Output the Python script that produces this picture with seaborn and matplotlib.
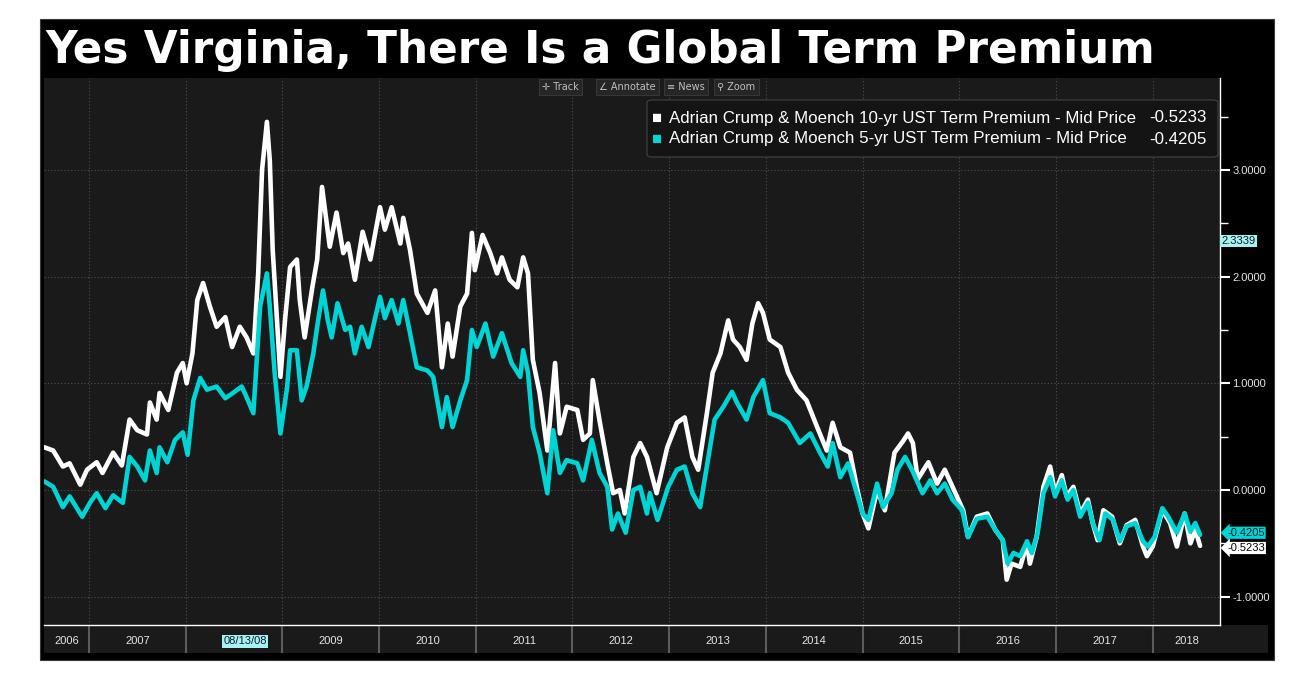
import numpy as np
import pandas as pd
import seaborn as sns
import matplotlib.pyplot as plt
import matplotlib.transforms as mtransforms
from matplotlib.patches import Rectangle, FancyBboxPatch

# %% data (dates as decimal years, term premium in %)
dates_10y = [2006.54, 2006.63, 2006.73, 2006.80, 2006.91, 2006.98, 2007.08, 2007.14, 2007.25, 2007.34,
             2007.42, 2007.50, 2007.60, 2007.63, 2007.70, 2007.73, 2007.82, 2007.91, 2007.97, 2008.01,
             2008.07, 2008.12, 2008.18, 2008.25, 2008.32, 2008.41, 2008.48, 2008.56, 2008.63, 2008.70,
             2008.75, 2008.79, 2008.84, 2008.87, 2008.90, 2008.98, 2009.03, 2009.08, 2009.15, 2009.18,
             2009.23, 2009.31, 2009.36, 2009.41, 2009.49, 2009.56, 2009.63, 2009.68, 2009.75, 2009.83,
             2009.91, 2010.01, 2010.06, 2010.13, 2010.22, 2010.25, 2010.32, 2010.39, 2010.50, 2010.58,
             2010.65, 2010.71, 2010.76, 2010.84, 2010.91, 2010.96, 2010.99, 2011.07, 2011.15, 2011.22,
             2011.27, 2011.35, 2011.43, 2011.49, 2011.54, 2011.59, 2011.66, 2011.74, 2011.82, 2011.87,
             2011.94, 2012.05, 2012.11, 2012.18, 2012.21, 2012.28, 2012.36, 2012.42, 2012.49, 2012.54,
             2012.63, 2012.70, 2012.77, 2012.87, 2012.98, 2013.08, 2013.16, 2013.24, 2013.30, 2013.39,
             2013.45, 2013.53, 2013.61, 2013.66, 2013.73, 2013.80, 2013.86, 2013.92, 2013.97, 2014.04,
             2014.15, 2014.23, 2014.32, 2014.42, 2014.53, 2014.63, 2014.69, 2014.77, 2014.87, 2014.94,
             2015.00, 2015.06, 2015.15, 2015.23, 2015.33, 2015.42, 2015.47, 2015.52, 2015.57, 2015.68,
             2015.77, 2015.85, 2015.93, 2016.04, 2016.09, 2016.18, 2016.29, 2016.37, 2016.45, 2016.49,
             2016.54, 2016.63, 2016.70, 2016.73, 2016.80, 2016.87, 2016.94, 2016.99, 2017.06, 2017.11,
             2017.18, 2017.25, 2017.33, 2017.38, 2017.43, 2017.49, 2017.58, 2017.66, 2017.73, 2017.82,
             2017.90, 2017.94, 2018.00, 2018.10, 2018.18, 2018.25, 2018.33, 2018.39, 2018.44, 2018.49]
tp_10y = [0.40, 0.37, 0.22, 0.25, 0.05, 0.19, 0.26, 0.16, 0.35, 0.23,
          0.66, 0.56, 0.52, 0.82, 0.66, 0.91, 0.75, 1.10, 1.19, 1.00,
          1.28, 1.78, 1.94, 1.72, 1.53, 1.62, 1.34, 1.53, 1.43, 1.28,
          2.03, 3.00, 3.45, 3.09, 2.25, 1.06, 1.62, 2.09, 2.16, 1.78,
          1.43, 1.90, 2.16, 2.84, 2.28, 2.60, 2.22, 2.31, 1.97, 2.42,
          2.16, 2.65, 2.44, 2.65, 2.31, 2.55, 2.25, 1.84, 1.66, 1.87,
          1.15, 1.56, 1.25, 1.72, 1.84, 2.41, 2.06, 2.39, 2.22, 2.03,
          2.18, 1.97, 1.90, 2.18, 2.03, 1.22, 0.91, 0.37, 1.19, 0.53,
          0.78, 0.75, 0.47, 0.53, 1.03, 0.65, 0.25, -0.03, 0.00, -0.22,
          0.31, 0.44, 0.31, -0.03, 0.40, 0.63, 0.68, 0.31, 0.19, 0.72,
          1.10, 1.28, 1.59, 1.41, 1.34, 1.22, 1.56, 1.75, 1.66, 1.41,
          1.34, 1.10, 0.94, 0.84, 0.59, 0.37, 0.63, 0.40, 0.35, 0.03,
          -0.22, -0.36, 0.00, -0.19, 0.35, 0.46, 0.53, 0.44, 0.10, 0.26,
          0.06, 0.19, 0.03, -0.19, -0.44, -0.25, -0.22, -0.37, -0.47, -0.84,
          -0.69, -0.72, -0.50, -0.69, -0.44, 0.03, 0.22, -0.03, 0.14, -0.06,
          0.03, -0.22, -0.09, -0.31, -0.47, -0.19, -0.25, -0.50, -0.33, -0.28,
          -0.53, -0.62, -0.53, -0.19, -0.31, -0.53, -0.22, -0.50, -0.37, -0.5233]

dates_5y = [2006.54, 2006.63, 2006.73, 2006.80, 2006.93, 2007.01, 2007.08, 2007.17, 2007.25, 2007.35,
            2007.42, 2007.50, 2007.58, 2007.63, 2007.70, 2007.73, 2007.81, 2007.89, 2007.97, 2008.02,
            2008.08, 2008.15, 2008.22, 2008.32, 2008.41, 2008.49, 2008.58, 2008.63, 2008.70, 2008.77,
            2008.84, 2008.87, 2008.92, 2008.98, 2009.05, 2009.08, 2009.15, 2009.20, 2009.25, 2009.32,
            2009.37, 2009.42, 2009.47, 2009.51, 2009.57, 2009.65, 2009.70, 2009.75, 2009.82, 2009.89,
            2010.01, 2010.06, 2010.13, 2010.20, 2010.25, 2010.32, 2010.39, 2010.50, 2010.56, 2010.65,
            2010.70, 2010.76, 2010.84, 2010.91, 2010.96, 2011.01, 2011.10, 2011.18, 2011.27, 2011.37,
            2011.46, 2011.49, 2011.54, 2011.59, 2011.66, 2011.74, 2011.80, 2011.87, 2011.94, 2012.05,
            2012.11, 2012.20, 2012.28, 2012.36, 2012.41, 2012.47, 2012.55, 2012.63, 2012.70, 2012.77,
            2012.80, 2012.88, 2012.99, 2013.08, 2013.16, 2013.24, 2013.32, 2013.39, 2013.47, 2013.56,
            2013.65, 2013.70, 2013.80, 2013.87, 2013.97, 2014.04, 2014.15, 2014.23, 2014.35, 2014.46,
            2014.56, 2014.64, 2014.69, 2014.77, 2014.85, 2014.94, 2015.00, 2015.06, 2015.15, 2015.21,
            2015.30, 2015.36, 2015.44, 2015.51, 2015.56, 2015.62, 2015.70, 2015.77, 2015.85, 2015.93,
            2016.03, 2016.09, 2016.18, 2016.29, 2016.37, 2016.45, 2016.50, 2016.56, 2016.63, 2016.70,
            2016.75, 2016.81, 2016.87, 2016.94, 2016.99, 2017.06, 2017.12, 2017.18, 2017.25, 2017.33,
            2017.38, 2017.45, 2017.51, 2017.59, 2017.66, 2017.73, 2017.82, 2017.90, 2017.95, 2018.02,
            2018.10, 2018.16, 2018.25, 2018.33, 2018.39, 2018.44, 2018.49]
tp_5y = [0.08, 0.03, -0.16, -0.06, -0.25, -0.12, -0.03, -0.17, -0.05, -0.12,
         0.31, 0.22, 0.09, 0.37, 0.16, 0.40, 0.26, 0.47, 0.54, 0.33,
         0.84, 1.05, 0.94, 0.97, 0.86, 0.91, 0.97, 0.87, 0.72, 1.72,
         2.03, 1.72, 1.10, 0.53, 0.97, 1.31, 1.31, 0.84, 0.97, 1.28,
         1.59, 1.87, 1.59, 1.43, 1.75, 1.50, 1.53, 1.28, 1.53, 1.34,
         1.81, 1.61, 1.78, 1.56, 1.78, 1.47, 1.15, 1.12, 1.06, 0.59,
         0.87, 0.59, 0.84, 1.03, 1.50, 1.34, 1.56, 1.25, 1.47, 1.19,
         1.06, 1.31, 1.10, 0.59, 0.35, -0.03, 0.56, 0.16, 0.28, 0.25,
         0.09, 0.47, 0.16, 0.03, -0.37, -0.22, -0.40, 0.00, 0.03, -0.22,
         -0.03, -0.28, 0.03, 0.19, 0.22, -0.03, -0.16, 0.22, 0.66, 0.78,
         0.92, 0.82, 0.66, 0.87, 1.03, 0.72, 0.68, 0.63, 0.44, 0.53,
         0.35, 0.22, 0.44, 0.12, 0.25, -0.03, -0.22, -0.28, 0.06, -0.16,
         -0.03, 0.19, 0.31, 0.19, 0.09, -0.03, 0.09, -0.03, 0.06, -0.09,
         -0.19, -0.44, -0.27, -0.25, -0.37, -0.47, -0.69, -0.59, -0.62, -0.48,
         -0.59, -0.40, -0.03, 0.12, -0.06, 0.09, -0.09, 0.00, -0.25, -0.12,
         -0.31, -0.47, -0.22, -0.28, -0.48, -0.34, -0.31, -0.48, -0.53, -0.44,
         -0.17, -0.25, -0.40, -0.22, -0.39, -0.31, -0.4205]

name_10y = "Adrian Crump & Moench 10-yr UST Term Premium - Mid Price"
name_5y = "Adrian Crump & Moench 5-yr UST Term Premium - Mid Price"
last_10y = -0.5233
last_5y = -0.4205
cursor_value = 2.3339
cursor_date = 2008.615
cursor_label = "08/13/08"
years = list(range(2006, 2019))
y_ticks = [-1.0, 0.0, 1.0, 2.0, 3.0]
title = "Yes Virginia, There Is a Global Term Premium"
toolbar = ["\u271b Track", "\u2220 Annotate", "\u2261 News", "\u26b2 Zoom"]

# %% style
W, H = 1303, 684
BG = "#1a1a1a"
TEAL = "#00d4d4"
CURSOR = "#a8f2f2"

sns.set_style("dark")
plt.rcParams["font.family"] = ["Liberation Sans", "DejaVu Sans"]


def box(x0, y0, x1, y1):
    # pixel box (top-left origin) -> figure fraction rect
    return [x0 / W, 1 - y1 / H, (x1 - x0) / W, (y1 - y0) / H]


fig = plt.figure(figsize=(W / 100, H / 100), dpi=100, facecolor="white")
fig.patches.append(Rectangle((40 / W, 1 - 660 / H), 1234 / W, 641 / H,
                             transform=fig.transFigure, facecolor="black",
                             edgecolor="#3a3a3a", lw=0.8, zorder=-5))

# %% main panel
ax = fig.add_axes(box(44, 78, 1220, 625), zorder=2)
ax.set_facecolor(BG)

df10 = pd.DataFrame({"date": dates_10y, "tp": tp_10y})
df5 = pd.DataFrame({"date": dates_5y, "tp": tp_5y})
sns.lineplot(data=df10, x="date", y="tp", ax=ax, color="white", linewidth=3.3,
             estimator=None, sort=False)
sns.lineplot(data=df5, x="date", y="tp", ax=ax, color=TEAL, linewidth=3.3,
             estimator=None, sort=False)

x_lo, x_hi = 2006.535, 2018.696
ax.set_xlim(x_lo, x_hi)
ax.set_ylim(-1.265, 3.861)
ax.set_xlabel("")
ax.set_ylabel("")

ax.set_xticks(years[1:])
ax.set_xticks([y + q for y in years for q in (0.25, 0.5, 0.75) if x_lo < y + q < x_hi], minor=True)
ax.tick_params(axis="x", which="major", length=0, labelbottom=False)
ax.tick_params(axis="x", which="minor", length=3, width=1, color="white", direction="out")

ax.yaxis.tick_right()
ax.set_yticks(y_ticks)
ax.set_yticklabels([f"{v:.4f}" for v in y_ticks])
ax.set_yticks([v + 0.5 for v in y_ticks], minor=True)
ax.tick_params(axis="y", which="major", length=7, width=1.5, color="white",
               labelcolor="#e6e6e6", labelsize=8, pad=2)
ax.tick_params(axis="y", which="minor", length=6, width=1, color="white")

ax.grid(True, which="major", color="#505050", linestyle=(0, (1, 2)), linewidth=0.8)
for side in ("top", "left"):
    ax.spines[side].set_visible(False)
for side in ("right", "bottom"):
    ax.spines[side].set_color("white")
    ax.spines[side].set_linewidth(1)

# value flags on the right axis
flag = mtransforms.blended_transform_factory(ax.transAxes, ax.transData)
ax.text(1.001, cursor_value, f"{cursor_value:.4f}", transform=flag, ha="left", va="center",
        fontsize=8, color="#0b1f2a", clip_on=False,
        bbox=dict(boxstyle="square,pad=0.12", fc=CURSOR, ec="none"))
ax.text(1.006, last_5y + 0.02, f"{last_5y:.4f}", transform=flag, ha="left", va="center",
        fontsize=8, color="#0b1f2a", clip_on=False,
        bbox=dict(boxstyle="larrow,pad=0.1", fc=TEAL, ec="none"))
ax.text(1.006, last_10y - 0.02, f"{last_10y:.4f}", transform=flag, ha="left", va="center",
        fontsize=8, color="black", clip_on=False,
        bbox=dict(boxstyle="larrow,pad=0.1", fc="white", ec="none"))

# %% date band under the chart
band = fig.add_axes(box(44, 625, 1268, 653), zorder=1)
band.set_facecolor(BG)
band.set_xlim(x_lo, 2019.192)
band.set_ylim(0, 1)
band.set_xticks([])
band.set_yticks([])
for s in band.spines.values():
    s.set_visible(False)
for yr in years[1:]:
    band.axvline(yr, color="#5c5c5c", lw=1.5)
for yr in years:
    if yr == int(cursor_date):
        continue
    mid = (max(yr, x_lo) + min(yr + 1, x_hi)) / 2
    band.text(mid, 0.42, str(yr), ha="center", va="center", fontsize=8, color="#e6e6e6")
band.text(cursor_date, 0.42, cursor_label, ha="center", va="center", fontsize=8,
          color="#0b1f2a", bbox=dict(boxstyle="square,pad=0.12", fc=CURSOR, ec="none"))

# %% title, toolbar, legend
fig.text(45 / W, 1 - 63 / H, title, fontsize=31.5, fontweight="bold", color="white",
         family="DejaVu Sans", va="baseline")

for label, x in zip(toolbar, [542, 599, 667, 717]):
    fig.text(x / W, 1 - 87 / H, label, fontsize=7, color="#c0c0c0", va="center",
             family=["DejaVu Sans"], zorder=5,
             bbox=dict(boxstyle="square,pad=0.35", fc="#262626", ec="#3c3c3c", lw=0.6))

fig.patches.append(FancyBboxPatch((647 / W, 1 - 157 / H), 571 / W, 57 / H,
                                  boxstyle="round,pad=0,rounding_size=0.004",
                                  transform=fig.transFigure, facecolor="#141414",
                                  edgecolor="#444444", lw=0.8, zorder=4))
for name, value, color, y in [(name_10y, last_10y, "white", 118), (name_5y, last_5y, TEAL, 139)]:
    fig.text(652 / W, 1 - y / H, "\u25a0", color=color, fontsize=12, va="center", zorder=5)
    fig.text(669 / W, 1 - y / H, name, color="white", fontsize=12.2, va="center", zorder=5)
    fig.text(1207 / W, 1 - y / H, f"{value:.4f}", color="white", fontsize=12.2, va="center",
             ha="right", zorder=5)

fig.savefig("out.png", dpi=100, facecolor="white")
